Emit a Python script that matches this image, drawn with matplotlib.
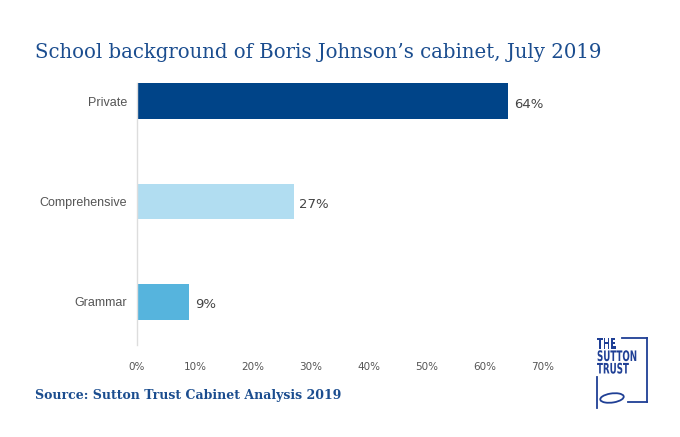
import matplotlib.pyplot as plt
from matplotlib.lines import Line2D
from matplotlib.textpath import TextPath
from matplotlib.patches import PathPatch, Ellipse
from matplotlib.font_manager import FontProperties
from matplotlib.transforms import Affine2D

# Data
categories = ["Grammar", "Comprehensive", "Private"]
values = [9, 27, 64]
bar_colors = ["#56b4dd", "#b1ddf1", "#004488"]
xticks = [0, 10, 20, 30, 40, 50, 60, 70]

title_color = "#1b4d8f"
text_color = "#555555"
logo_color = "#1f3f95"

fig = plt.figure(figsize=(6.8, 4.37), dpi=100)
ax = fig.add_axes([137 / 680, 1 - 345 / 437, 406 / 680, 262 / 437])

ypos = list(range(len(categories)))
ax.barh(ypos, values, height=0.356, color=bar_colors)

for y, v in zip(ypos, values):
    ax.text(v + 1.0, y - 0.03, f"{v}%", va="center", ha="left",
            fontsize=9.5, color="#444444")

ax.set_xlim(0, 70)
ax.set_ylim(-0.43, 2.18)
ax.set_yticks(ypos)
ax.set_yticklabels(categories, fontsize=9, color=text_color, family="Liberation Sans")
ax.set_xticks(xticks)
ax.set_xticklabels([f"{t}%" for t in xticks], fontsize=7.5, color=text_color)
ax.tick_params(axis="both", length=0)
ax.tick_params(axis="y", pad=7)
ax.tick_params(axis="x", pad=12)

for side in ["top", "right", "bottom"]:
    ax.spines[side].set_visible(False)
ax.spines["left"].set_color("#dddddd")
ax.spines["left"].set_linewidth(1)

# Title and source
fig.text(35 / 680, 1 - 52 / 437, "School background of Boris Johnson\u2019s cabinet, July 2019",
         fontsize=14.2, color=title_color, family="DejaVu Serif", va="center", ha="left")
fig.text(35 / 680, 1 - 396 / 437, "Source: Sutton Trust Cabinet Analysis 2019",
         fontsize=9, color=title_color, family="DejaVu Serif", weight="bold",
         va="center", ha="left")

# Logo (simplified): condensed text drawn as paths in pixel coordinates
fp = FontProperties(family="DejaVu Sans", weight="bold")
for word, top in [("THE", 338), ("SUTTON", 350.5), ("TRUST", 363)]:
    tp = TextPath((0, 0), word, size=14.5, prop=fp)
    tr = Affine2D().scale(0.6, 1.0).translate(597, 437 - top - 10.5)
    fig.add_artist(PathPatch(tr.transform_path(tp), color=logo_color, lw=0,
                             transform=None))
logo_lines = [
    ([622, 647], [338, 338]),
    ([647, 647], [338, 402]),
    ([628, 647], [402, 402]),
    ([597, 597], [377, 408]),
]
for xs, ys in logo_lines:
    fig.add_artist(Line2D([x / 680 for x in xs], [1 - y / 437 for y in ys],
                          color=logo_color, linewidth=1.3))
fig.add_artist(Ellipse((612 / 680, 1 - 398 / 437), 24 / 680, 9 / 437, angle=15,
                       fill=False, edgecolor=logo_color, linewidth=1.3))

plt.savefig("out.png", dpi=100)
